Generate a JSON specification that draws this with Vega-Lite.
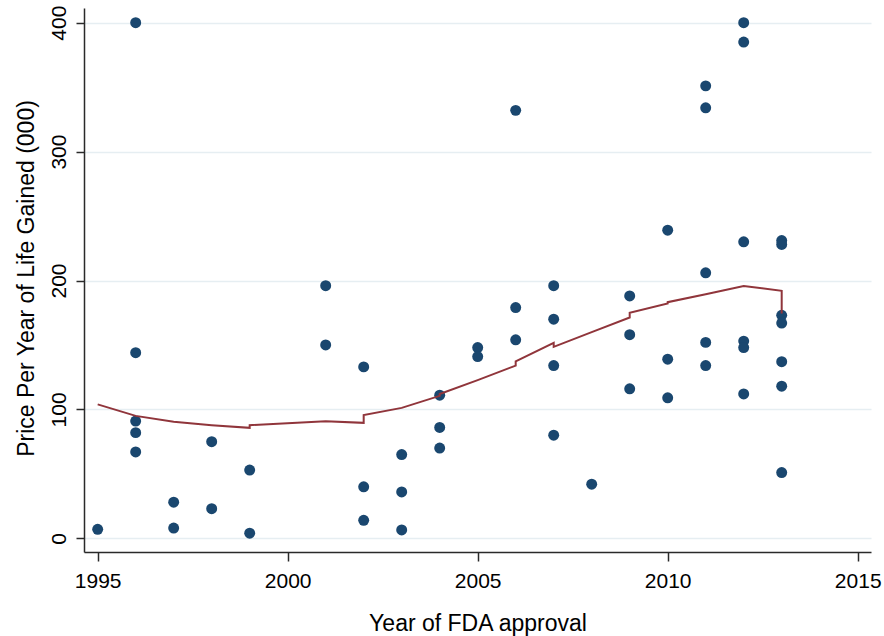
{
  "$schema": "https://vega.github.io/schema/vega-lite/v6.json",
  "width": 787,
  "height": 544,
  "autosize": {"type": "none"},
  "padding": {"left": 84, "top": 8, "right": 13, "bottom": 84},
  "background": "white",
  "config": {
    "view": {"stroke": null},
    "font": "Liberation Sans",
    "axis": {
      "domainColor": "#2a2a2a",
      "domainWidth": 1.5,
      "tickColor": "#2a2a2a",
      "tickWidth": 1.5,
      "labelColor": "#000000",
      "titleColor": "#000000",
      "labelFont": "Liberation Sans",
      "titleFont": "Liberation Sans",
      "titleFontWeight": "normal",
      "labelFontSize": 21,
      "titleFontSize": 23
    }
  },
  "datasets": {
    "pts": [
      {"year": 1995, "price": 7},
      {"year": 1996, "price": 400},
      {"year": 1996, "price": 144},
      {"year": 1996, "price": 91},
      {"year": 1996, "price": 82},
      {"year": 1996, "price": 67},
      {"year": 1997, "price": 28},
      {"year": 1997, "price": 8},
      {"year": 1998, "price": 75},
      {"year": 1998, "price": 23},
      {"year": 1999, "price": 53},
      {"year": 1999, "price": 4},
      {"year": 2001, "price": 196},
      {"year": 2001, "price": 150},
      {"year": 2002, "price": 133},
      {"year": 2002, "price": 40},
      {"year": 2002, "price": 14},
      {"year": 2003, "price": 65},
      {"year": 2003, "price": 36},
      {"year": 2003, "price": 6.5},
      {"year": 2004, "price": 111},
      {"year": 2004, "price": 86},
      {"year": 2004, "price": 70},
      {"year": 2005, "price": 148},
      {"year": 2005, "price": 141},
      {"year": 2006, "price": 332},
      {"year": 2006, "price": 179},
      {"year": 2006, "price": 154},
      {"year": 2007, "price": 196},
      {"year": 2007, "price": 170},
      {"year": 2007, "price": 134},
      {"year": 2007, "price": 80},
      {"year": 2008, "price": 42},
      {"year": 2009, "price": 188},
      {"year": 2009, "price": 158},
      {"year": 2009, "price": 116},
      {"year": 2010, "price": 239},
      {"year": 2010, "price": 139},
      {"year": 2010, "price": 109},
      {"year": 2011, "price": 351},
      {"year": 2011, "price": 334},
      {"year": 2011, "price": 206},
      {"year": 2011, "price": 152},
      {"year": 2011, "price": 134},
      {"year": 2012, "price": 400},
      {"year": 2012, "price": 385},
      {"year": 2012, "price": 230},
      {"year": 2012, "price": 153},
      {"year": 2012, "price": 148},
      {"year": 2012, "price": 112},
      {"year": 2013, "price": 231},
      {"year": 2013, "price": 228},
      {"year": 2013, "price": 173},
      {"year": 2013, "price": 167},
      {"year": 2013, "price": 137},
      {"year": 2013, "price": 118},
      {"year": 2013, "price": 51}
    ],
    "smooth": [
      {"i": 1, "year": 1995, "fit": 103.9},
      {"i": 2, "year": 1996, "fit": 95},
      {"i": 3, "year": 1997, "fit": 90.4},
      {"i": 4, "year": 1998, "fit": 87.8},
      {"i": 5, "year": 1999, "fit": 85.7},
      {"i": 6, "year": 1999, "fit": 87.8},
      {"i": 7, "year": 2001, "fit": 90.9},
      {"i": 8, "year": 2002, "fit": 89.6},
      {"i": 9, "year": 2002, "fit": 95.6},
      {"i": 10, "year": 2003, "fit": 101.2},
      {"i": 11, "year": 2004, "fit": 110.5},
      {"i": 12, "year": 2004, "fit": 112},
      {"i": 13, "year": 2005, "fit": 122.7},
      {"i": 14, "year": 2006, "fit": 134},
      {"i": 15, "year": 2006, "fit": 137.2},
      {"i": 16, "year": 2007, "fit": 151.6},
      {"i": 17, "year": 2007, "fit": 148.5},
      {"i": 18, "year": 2008, "fit": 160},
      {"i": 19, "year": 2009, "fit": 171.3},
      {"i": 20, "year": 2009, "fit": 174.9},
      {"i": 21, "year": 2010, "fit": 182.2},
      {"i": 22, "year": 2010, "fit": 183.2},
      {"i": 23, "year": 2011, "fit": 189.4},
      {"i": 24, "year": 2012, "fit": 195.8},
      {"i": 25, "year": 2013, "fit": 192},
      {"i": 26, "year": 2013, "fit": 174.4}
    ]
  },
  "layer": [
    {
      "data": {"name": "pts"},
      "mark": {"type": "circle", "size": 120, "opacity": 1, "color": "#1a476f"},
      "encoding": {
        "x": {
          "field": "year",
          "type": "quantitative",
          "scale": {"domain": [1994.64, 2015.35], "nice": false, "zero": false},
          "axis": {
            "title": "Year of FDA approval",
            "values": [1995, 2000, 2005, 2010, 2015],
            "format": "d",
            "grid": false,
            "tickSize": 9,
            "labelPadding": 9,
            "titleBaseline": "alphabetic",
            "titleY": 78.5,
            "titleX": 393.5
          }
        },
        "y": {
          "field": "price",
          "type": "quantitative",
          "scale": {"domain": [-10.6, 411.4], "nice": false, "zero": false},
          "axis": {
            "title": "Price Per Year of Life Gained (000)",
            "values": [0, 100, 200, 300, 400],
            "grid": true,
            "gridColor": "#e6eef2",
            "gridWidth": 1.6,
            "tickSize": 8,
            "labelAngle": -90,
            "labelAlign": "center",
            "labelBaseline": "alphabetic",
            "labelPadding": 11,
            "titleAngle": -90,
            "titleBaseline": "alphabetic",
            "titleAlign": "center",
            "titleX": -51,
            "titleY": 270
          }
        }
      }
    },
    {
      "data": {"name": "smooth"},
      "mark": {"type": "line", "color": "#90353b", "strokeWidth": 2},
      "encoding": {
        "x": {"field": "year", "type": "quantitative"},
        "y": {"field": "fit", "type": "quantitative"},
        "order": {"field": "i", "type": "quantitative"}
      }
    }
  ]
}
